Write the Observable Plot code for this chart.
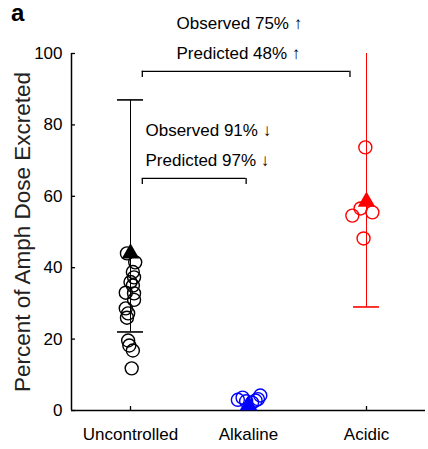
<!DOCTYPE html>
<html>
<head>
<meta charset="utf-8">
<script src="https://cdn.jsdelivr.net/npm/d3@7"></script>
<script src="https://cdn.jsdelivr.net/npm/@observablehq/plot@0.6"></script>
<style>
  html, body { margin: 0; padding: 0; background: #fff; }
  #wrap { position: relative; width: 428px; height: 449px; font-family: "Liberation Sans", Arial, sans-serif; }
  #panel { position: absolute; left: 11px; top: 0px; font-size: 24px; line-height: 26px; font-weight: bold; z-index: 2; }
</style>
</head>
<body>
<div id="wrap"><div id="panel">a</div></div>
<script>
// ---- data ----
const categories = ["Uncontrolled", "Alkaline", "Acidic"];
const groupColors = ["#000000", "#0000ff", "#ff0000"];

const uncontrolledValues = [44.0, 41.5, 38.8, 37.3, 36.0, 35.0, 33.0, 32.8, 31.0, 28.6, 27.2, 26.0, 19.6, 18.2, 16.8, 11.8];
const uncontrolledJitter = [-0.03, 0.04, 0.02, 0.03, 0.0, 0.02, -0.04, 0.03, 0.03, -0.04, -0.02, -0.03, -0.02, -0.01, 0.02, 0.01];
const alkalineValues = [3.0, 3.6, 2.6, 2.2, 3.2, 4.2, 2.8];
const alkalineJitter = [-0.09, -0.05, -0.02, 0.03, 0.08, 0.1, 0.06];
const acidicValues = [73.7, 54.6, 56.6, 55.5, 48.2];
const acidicJitter = [-0.01, -0.12, -0.05, 0.05, -0.025];

const groupMeans = [44, 1.5, 58.5];
const errorLow = [22, null, 29];
const errorHigh = [87, null, 100];

const yTicks = [0, 20, 40, 60, 80, 100];
const yLabel = "Percent of Amph Dose Excreted";

const annotationLine1 = ["Observed 75% ↑", "Observed 91% ↓"];
const annotationLine2 = ["Predicted 48% ↑", "Predicted 97% ↓"];
const bracketFrom = [1.1, 1.1];
const bracketTo = [2.86, 1.98];
const bracketLevel = [95, 65];
const annotationX = [1.39, 1.127];

// ---- build tables ----
const groups = [uncontrolledValues, alkalineValues, acidicValues];
const jitters = [uncontrolledJitter, alkalineJitter, acidicJitter];
const points = groups.flatMap((vals, g) => vals.map((v, i) => ({x: g + 1 + jitters[g][i], y: v, c: groupColors[g]})));
const means = groupMeans.map((m, g) => ({x: g + 1, y: m, c: groupColors[g]}));
const errors = categories.map((k, g) => ({x: g + 1, lo: errorLow[g], hi: errorHigh[g], c: groupColors[g]})).filter(d => d.lo != null);
const caps = errors.flatMap(d => [{x: d.x, y: d.lo, c: d.c}].concat(d.hi < 100 ? [{x: d.x, y: d.hi, c: d.c}] : []));
const brackets = bracketLevel.map((lv, i) => ({x1: bracketFrom[i], x2: bracketTo[i], y: lv, t1: annotationLine1[i], t2: annotationLine2[i], tx: annotationX[i]}));
const bracketEnds = brackets.flatMap(b => [{x: b.x1, y1: b.y, y2: b.y - 1.7}, {x: b.x2, y1: b.y, y2: b.y - 1.7}]);

const capHalf = 0.11;

const chart = Plot.plot({
  width: 428,
  height: 449,
  marginLeft: 71,
  marginRight: 3,
  marginTop: 53,
  marginBottom: 39,
  style: {fontFamily: "'Liberation Sans', Arial, sans-serif", fontSize: "17px", background: "#fff", color: "#000"},
  x: {domain: [0.5, 3.5]},
  y: {domain: [0, 100]},
  marks: [
    Plot.axisY({ticks: yTicks, tickSize: -4, tickPadding: 13, label: null, strokeWidth: 1.3}),
    Plot.axisX({ticks: [1, 2, 3], tickFormat: d => categories[d - 1], tickSize: -4, tickPadding: 21, label: null, strokeWidth: 1.3}),
    Plot.ruleX([0.5], {stroke: "#000", strokeWidth: 1.5}),
    Plot.ruleY([0], {stroke: "#000", strokeWidth: 1.5}),
    Plot.text([yLabel], {text: d => d, frameAnchor: "left", textAnchor: "middle", rotate: -90, dx: -49, fontSize: 22.5, fill: "#222"}),
    // error bars
    Plot.ruleX(errors, {x: "x", y1: "lo", y2: "hi", stroke: "c", strokeWidth: 1}),
    Plot.ruleY(caps, {y: "y", x1: d => d.x - capHalf, x2: d => d.x + capHalf, stroke: "c", strokeWidth: 1.6}),
    // individual points
    Plot.dot(points, {x: "x", y: "y", stroke: "c", r: 6.5, strokeWidth: 1.4, fill: "none"}),
    // means
    Plot.dot(means, {x: "x", y: "y", fill: "c", symbol: "triangle", r: 6.5, stroke: "none"}),
    // brackets
    Plot.ruleY(brackets, {y: "y", x1: "x1", x2: "x2", stroke: "#000", strokeWidth: 1.3}),
    Plot.ruleX(bracketEnds, {x: "x", y1: "y1", y2: "y2", stroke: "#000", strokeWidth: 1.3}),
    Plot.text(brackets, {x: "tx", y: d => d.y + 13.5, text: "t1", textAnchor: "start", fontSize: 17, fill: "#000"}),
    Plot.text(brackets, {x: "tx", y: d => d.y + 5, text: "t2", textAnchor: "start", fontSize: 17, fill: "#000"})
  ]
});
document.getElementById("wrap").appendChild(chart);
</script>
</body>
</html>
